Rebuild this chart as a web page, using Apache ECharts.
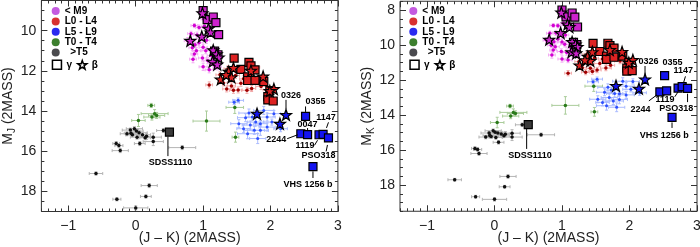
<!DOCTYPE html>
<html><head><meta charset="utf-8">
<script src="https://cdn.jsdelivr.net/npm/echarts@6/dist/echarts.min.js"></script>
<style>html,body{margin:0;padding:0;background:#fff}#c{width:700px;height:247px}</style>
</head><body><div id="c"></div>
<script>
// ---------------- data ----------------
const classNames = ['< M9', 'L0 - L4', 'L5 - L9', 'T0 - T4', '>T5'];
// field objects: [J-K, M_J, M_K, err(J-K), err(M)]
const fieldM9 = [
  [1.01, 9.42, 8.41, 0.04, 0.10], [0.87, 9.75, 8.88, 0.05, 0.10], [0.94, 9.84, 8.90, 0.05, 0.12],
  [1.02, 9.78, 8.76, 0.04, 0.10], [0.82, 10.15, 9.33, 0.05, 0.12], [0.91, 10.22, 9.31, 0.05, 0.15],
  [0.99, 10.35, 9.36, 0.05, 0.12], [1.05, 10.48, 9.43, 0.05, 0.15], [0.94, 10.60, 9.66, 0.06, 0.15],
  [0.88, 10.70, 9.82, 0.05, 0.12], [1.00, 10.83, 9.83, 0.06, 0.15], [0.84, 10.85, 10.01, 0.05, 0.15],
  [0.90, 11.00, 10.10, 0.06, 0.15], [1.04, 11.00, 9.96, 0.06, 0.15], [0.87, 11.16, 10.29, 0.05, 0.15],
  [1.12, 11.24, 10.12, 0.06, 0.15], [0.85, 11.42, 10.57, 0.05, 0.18], [0.99, 11.36, 10.37, 0.06, 0.15],
  [1.07, 11.50, 10.43, 0.06, 0.15], [1.16, 11.70, 10.54, 0.06, 0.15], [1.00, 11.80, 10.80, 0.06, 0.18],
  [1.09, 11.95, 10.86, 0.06, 0.15], [1.21, 11.80, 10.59, 0.06, 0.15], [0.77, 10.50, 9.73, 0.05, 0.15]
];
const fieldL0L4 = [
  [1.09, 12.70, 11.61, 0.05, 0.15], [1.35, 12.90, 11.55, 0.06, 0.15], [1.45, 12.97, 11.52, 0.06, 0.15],
  [1.52, 12.95, 11.43, 0.06, 0.15], [1.65, 12.97, 11.32, 0.08, 0.15], [1.95, 12.95, 11.00, 0.06, 0.15],
  [1.37, 11.90, 10.53, 0.06, 0.15], [1.48, 12.23, 10.75, 0.06, 0.15], [1.76, 11.82, 10.06, 0.08, 0.15],
  [1.30, 12.60, 11.30, 0.06, 0.15], [1.56, 12.62, 11.06, 0.08, 0.15], [1.82, 12.62, 10.80, 0.08, 0.15],
  [1.60, 12.40, 10.80, 0.06, 0.15], [1.72, 12.88, 11.16, 0.06, 0.15], [1.86, 12.78, 10.92, 0.08, 0.15],
  [1.25, 12.20, 10.95, 0.06, 0.15], [1.42, 12.75, 11.33, 0.06, 0.15], [1.55, 11.95, 10.40, 0.06, 0.15]
];
const fieldL5L9 = [
  [1.46, 13.56, 12.10, 0.08, 0.12], [1.52, 13.47, 11.95, 0.08, 0.12], [1.68, 14.10, 12.42, 0.15, 0.20],
  [1.73, 14.30, 12.57, 0.10, 0.15], [1.63, 14.33, 12.70, 0.12, 0.20], [1.78, 14.55, 12.77, 0.12, 0.20],
  [1.85, 14.63, 12.78, 0.10, 0.15], [1.95, 14.30, 12.35, 0.12, 0.20], [2.05, 14.13, 12.08, 0.10, 0.15],
  [1.95, 14.80, 12.85, 0.12, 0.20], [1.85, 14.96, 13.11, 0.12, 0.25], [1.76, 14.96, 13.20, 0.15, 0.20],
  [1.66, 15.13, 13.47, 0.15, 0.25], [1.81, 15.37, 13.56, 0.12, 0.25], [2.15, 14.88, 12.73, 0.10, 0.15],
  [1.53, 14.63, 13.10, 0.12, 0.20], [1.60, 14.88, 13.28, 0.10, 0.20], [1.90, 13.97, 12.07, 0.15, 0.20],
  [2.02, 14.55, 12.53, 0.12, 0.15], [1.70, 14.70, 13.00, 0.12, 0.20]
];
const fieldT0T4 = [
  [0.23, 13.72, 13.49, 0.05, 0.10], [0.28, 14.13, 13.85, 0.20, 0.20], [0.31, 14.22, 13.91, 0.12, 0.15],
  [0.24, 14.30, 14.06, 0.12, 0.15], [0.04, 14.47, 14.43, 0.10, 0.30], [1.05, 14.50, 13.45, 0.20, 0.50],
  [1.47, 13.82, 12.35, 0.13, 0.30], [1.48, 15.30, 13.82, 0.05, 0.25]
];
const fieldT5 = [
  [-0.02, 14.88, 14.90, 0.12, 0.10], [0.01, 15.00, 14.99, 0.10, 0.10], [-0.07, 15.10, 15.17, 0.10, 0.10],
  [0.05, 15.08, 15.03, 0.12, 0.12], [-0.05, 15.18, 15.23, 0.10, 0.10], [0.02, 15.30, 15.28, 0.10, 0.10],
  [0.10, 15.18, 15.08, 0.12, 0.12], [0.16, 15.26, 15.10, 0.10, 0.15], [0.14, 15.33, 15.19, 0.08, 0.10],
  [0.26, 15.30, 15.04, 0.12, 0.20], [0.26, 15.52, 15.26, 0.15, 0.20], [0.06, 15.62, 15.56, 0.08, 0.10],
  [0.41, 14.97, 14.56, 0.10, 0.10], [0.69, 15.82, 15.13, 0.20, 0.10], [-0.29, 15.62, 15.91, 0.05, 0.10],
  [-0.25, 15.72, 15.97, 0.06, 0.10], [-0.23, 15.97, 16.20, 0.12, 0.10], [-0.59, 17.11, 17.70, 0.10, 0.08],
  [0.20, 17.71, 17.51, 0.12, 0.10], [0.15, 18.25, 18.10, 0.08, 0.08], [-0.28, 18.39, 18.67, 0.06, 0.08],
  [0.00, 18.82, 18.82, 0.18, 0.10], [-0.13, 15.13, 15.26, 0.10, 0.10], [-0.08, 14.95, 15.03, 0.12, 0.10]
];
// young, gravity class gamma (squares): [J-K, M_J, M_K]
const gammaM9 = [[1.00, 9.00, 8.00], [1.06, 9.45, 8.39], [1.15, 9.32, 8.17], [1.19, 9.60, 8.41],
  [1.23, 10.20, 8.97], [1.17, 11.02, 9.85], [1.22, 11.20, 9.98]];
const gammaL0L4 = [[1.46, 11.37, 9.91], [1.56, 11.93, 10.37], [1.68, 11.58, 9.90], [1.71, 11.75, 10.04],
  [1.77, 11.95, 10.18], [1.66, 12.30, 10.64], [1.66, 12.48, 10.82], [1.77, 12.47, 10.70],
  [1.90, 12.53, 10.63], [1.99, 12.98, 10.99], [1.96, 13.28, 11.32], [1.96, 13.45, 11.49], [2.04, 13.50, 11.46]];
const gammaL5L9 = [[2.52, 14.27, 11.75], [2.45, 15.13, 12.68], [2.55, 15.17, 12.62], [2.72, 15.18, 12.46],
  [2.78, 15.16, 12.38], [2.86, 15.34, 12.48], [2.63, 16.77, 14.14]];
const gammaL5L9Names = ['0355', '2244', '0047', '1119', '1147', 'PSO318', 'VHS 1256 b'];
const gammaT5 = [[0.50, 15.05, 14.55]];
const gammaT5Names = ['SDSS1110'];
// gravity class beta (stars): [J-K, M_J, M_K]
const betaM9 = [[0.99, 9.13, 8.14], [1.08, 9.90, 8.82], [1.11, 10.08, 8.97], [0.98, 10.29, 9.31],
  [0.81, 10.50, 9.69], [1.15, 10.97, 9.82], [1.20, 11.17, 9.97], [1.23, 11.33, 10.10],
  [1.14, 11.54, 10.40], [1.21, 11.68, 10.47]];
const betaL0L4 = [[1.26, 12.42, 11.16], [1.38, 12.04, 10.66], [1.42, 12.32, 10.90], [1.34, 12.20, 10.86],
  [1.45, 11.85, 10.40], [1.71, 11.99, 10.28], [1.89, 12.28, 10.39], [2.05, 12.90, 10.85], [1.99, 13.00, 11.01]];
const betaL5L9 = [[1.80, 14.13, 12.33], [2.23, 14.19, 11.96], [2.14, 14.63, 12.49]];
const betaL5L9Names = ['', '0326', ''];
// axes
const xRange = [-1.4, 3.0];
const yRangeJ = [8.5, 19.0];
const yRangeK = [7.5, 19.5];
const xMajorStep = 1, xMinorStep = 0.1, yMajorStep = 2, yMinorStep = 0.5;
const xTitle = '(J \u2013 K) (2MASS)';
const yTitles = [['M', 'J'], ['M', 'K']];

// ---------------- styling ----------------
const FONT = "'Liberation Sans', Arial, Helvetica, sans-serif";
const STAR = 'path://M50,0L61.76,33.82L97.55,34.55L69.02,56.18L79.39,90.45L50,70L20.61,90.45L30.98,56.18L2.45,34.55L38.24,33.82Z';
const COL = {
  M9: { dot: '#D200D2', err: '#F3AAF3', fill: '#CC22CC', legend: '#C45AE0' },
  L0: { dot: '#A00000', err: '#F2AAAA', fill: '#DD2222', legend: '#D83030' },
  L5: { dot: '#2E50FF', err: '#AABBFF', fill: '#1414F0', legend: '#2A2AF0' },
  T0: { dot: '#2A7A1A', err: '#AACC9A', legend: '#3C7F2E' },
  T5: { dot: '#111111', err: '#B4B4B4', fill: '#3A3A3A', legend: '#4A4A4E' }
};
// label placement (pixel offsets relative to the marked object): t = text centre, l = leader line
const labelOffsets = [
  { // M_J panel
    '0326': { t: [5, -19], l: [0, -15, 0, -6] },
    '0355': { t: [10, -15], l: [0, -10, 0, -4.5] },
    '1147': { t: [3, -17], l: [5.4, -12, 3.4, -6.4] },
    '0047': { t: [0, -10.5], l: [0, -6.5, 0, -3.5] },
    '2244': { t: [-24.5, 5.5], l: [-13.7, 5, -3, 1] },
    '1119': { t: [-14, 11], l: [-4.5, 10.5, -1.5, 5.5] },
    'PSO318': { t: [-10, 18], l: [-2.3, 13.4, -1, 7] },
    'VHS 1256 b': { t: [-5, 18], l: [0, 4.7, 0, 11.3] },
    'SDSS1110': { t: [1, 30.5], l: [-1.5, 4.5, -1.5, 24] }
  },
  { // M_K panel
    '0326': { t: [3.5, -17.5], l: [0, -13.3, 0, -5] },
    '0355': { t: [8, -13.5] },
    '1147': { t: [1, -16.3], l: [3.3, -10.3, 1.6, -4.6] },
    '2244': { t: [-19.3, 18], l: [-11, 9, -3, 3] },
    '1119': { t: [-13, 11], l: [-3.3, 8.7, 0, 3.7] },
    'PSO318': { t: [-11.3, 20.3], l: [0, 5.3, 0, 13.7] },
    'VHS 1256 b': { t: [-7.7, 18.3], l: [0, 5, 0, 10.5] },
    'SDSS1110': { t: [1.7, 31], l: [-1.6, 4.3, -1.6, 24.3] }
  }
];

const gridBase = { show: true, borderColor: '#333', borderWidth: 1, backgroundColor: 'transparent',
  containLabel: false, outerBoundsMode: 'none' };
const grids = [
  Object.assign({ left: 41.4, top: 0.5, width: 296.5, height: 211 }, gridBase),
  Object.assign({ left: 400, top: 1.25, width: 297, height: 210 }, gridBase)
];
const yRanges = [yRangeJ, yRangeK];

const fmt = v => (v < 0 ? '\u2212' + Math.abs(v) : String(v));
const noLine = { show: false, onZero: false };

const xAxes = [], yAxes = [];
[0, 1].forEach(g => {
  ['bottom', 'top'].forEach(pos => {
    xAxes.push({
      type: 'value', gridIndex: g, position: pos, min: xRange[0], max: xRange[1],
      minInterval: xMajorStep, maxInterval: xMajorStep, splitNumber: 4,
      axisLine: noLine, splitLine: { show: false },
      axisTick: { show: true, inside: true, length: 6, lineStyle: { color: '#333', width: 1 } },
      axisLabel: pos === 'bottom' ? { show: true, margin: 8, fontSize: 14, color: '#222', fontFamily: FONT,
        showMinLabel: false, showMaxLabel: true, formatter: fmt } : { show: false },
      name: pos === 'bottom' ? xTitle : '', nameLocation: 'middle', nameGap: 20, nameMoveOverlap: false,
      nameTextStyle: { fontSize: 14, color: '#222', fontFamily: FONT }
    });
    xAxes.push({
      type: 'value', gridIndex: g, position: pos, min: xRange[0], max: xRange[1], interval: xMinorStep,
      axisLine: noLine, splitLine: { show: false }, axisLabel: { show: false },
      axisTick: { show: true, inside: true, length: 3, lineStyle: { color: '#333', width: 1 } }
    });
  });
  ['left', 'right'].forEach(pos => {
    const yr = yRanges[g];
    yAxes.push({
      type: 'value', gridIndex: g, position: pos, inverse: true, min: yr[0], max: yr[1],
      minInterval: yMajorStep, maxInterval: yMajorStep, splitNumber: 5,
      axisLine: noLine, splitLine: { show: false },
      axisTick: { show: true, inside: true, length: 6, lineStyle: { color: '#333', width: 1 } },
      axisLabel: pos === 'left' ? { show: true, margin: 5, fontSize: 14, color: '#222', fontFamily: FONT,
        showMinLabel: false, showMaxLabel: false, formatter: fmt } : { show: false },
      name: pos === 'left' ? '{m|' + yTitles[g][0] + '}{s|' + yTitles[g][1] + '}{m| (2MASS)}' : '',
      nameLocation: 'middle', nameGap: 24, nameRotate: 90, nameMoveOverlap: false,
      nameTextStyle: { fontFamily: FONT, color: '#222',
        rich: { m: { fontSize: 14, fontFamily: FONT, color: '#222' },
                s: { fontSize: 10, fontFamily: FONT, color: '#222', padding: [8, 0, 0, 0] } } }
    });
    yAxes.push({
      type: 'value', gridIndex: g, position: pos, inverse: true, min: yr[0], max: yr[1], interval: yMinorStep,
      axisLine: noLine, splitLine: { show: false }, axisLabel: { show: false },
      axisTick: { show: true, inside: true, length: 3, lineStyle: { color: '#333', width: 1 } }
    });
  });
});

function errSeries(g, rows, col, color) {
  return {
    type: 'custom', xAxisIndex: 4 * g, yAxisIndex: 4 * g, z: 1, silent: true,
    data: rows.map(r => [r[0], r[col], r[3], r[4]]),
    encode: { x: 0, y: 1 },
    renderItem(params, api) {
      const x = api.value(0), y = api.value(1), ex = api.value(2), ey = api.value(3);
      const c = api.coord([x, y]), l = api.coord([x - ex, y]), r = api.coord([x + ex, y]);
      const t = api.coord([x, y - ey]), b = api.coord([x, y + ey]);
      const st = { stroke: color, lineWidth: 1 };
      const cp = 1.5;
      const ln = (x1, y1, x2, y2) => ({ type: 'line', shape: { x1, y1, x2, y2 }, style: st });
      return { type: 'group', children: [
        ln(l[0], c[1], r[0], c[1]), ln(c[0], t[1], c[0], b[1]),
        ln(l[0], c[1] - cp, l[0], c[1] + cp), ln(r[0], c[1] - cp, r[0], c[1] + cp),
        ln(c[0] - cp, t[1], c[0] + cp, t[1]), ln(c[0] - cp, b[1], c[0] + cp, b[1])
      ] };
    }
  };
}
function dotSeries(g, name, rows, col, color, size) {
  return { type: 'scatter', name, xAxisIndex: 4 * g, yAxisIndex: 4 * g, z: 2, silent: true,
    symbol: 'circle', symbolSize: size, itemStyle: { color, opacity: 1 },
    data: rows.map(r => [r[0], r[col]]) };
}
function squareSeries(g, rows, col, fill) {
  return { type: 'scatter', name: '\u03b3', xAxisIndex: 4 * g, yAxisIndex: 4 * g, z: 3, silent: true,
    symbol: 'rect', symbolSize: 8, itemStyle: { color: fill, borderColor: '#000', borderWidth: 1.2, opacity: 1 },
    data: rows.map(r => [r[0], r[col]]) };
}
function starSeries(g, rows, col, fill) {
  return { type: 'scatter', name: '\u03b2', xAxisIndex: 4 * g, yAxisIndex: 4 * g, z: 4, silent: true,
    symbol: STAR, symbolSize: 11, itemStyle: { color: fill, borderColor: '#000', borderWidth: 1.2, opacity: 1 },
    data: rows.map(r => [r[0], r[col]]) };
}
function annoSeries(g, col) {
  const offs = labelOffsets[g];
  const items = [];
  gammaL5L9.forEach((r, i) => items.push({ name: gammaL5L9Names[i], row: r }));
  betaL5L9.forEach((r, i) => { if (betaL5L9Names[i]) items.push({ name: betaL5L9Names[i], row: r }); });
  gammaT5.forEach((r, i) => items.push({ name: gammaT5Names[i], row: r }));
  const used = items.filter(it => offs[it.name]);
  return {
    type: 'custom', xAxisIndex: 4 * g, yAxisIndex: 4 * g, z: 6, silent: true,
    data: used.map(it => [it.row[0], it.row[col]]), encode: { x: 0, y: 1 },
    renderItem(params, api) {
      const it = used[params.dataIndex], o = offs[it.name];
      const c = api.coord([api.value(0), api.value(1)]);
      const ch = [{ type: 'text', x: c[0] + o.t[0], y: c[1] + o.t[1],
        style: { text: it.name, fill: '#000', fontSize: 9, fontWeight: 'bold', fontFamily: FONT,
                 align: 'center', verticalAlign: 'middle' } }];
      if (o.l) ch.push({ type: 'line', shape: { x1: c[0] + o.l[0], y1: c[1] + o.l[1], x2: c[0] + o.l[2], y2: c[1] + o.l[3] },
        style: { stroke: '#000', lineWidth: 1 } });
      return { type: 'group', children: ch };
    }
  };
}

const series = [];
[0, 1].forEach(g => {
  const col = g === 0 ? 1 : 2;
  series.push(errSeries(g, fieldT5, col, COL.T5.err));
  series.push(errSeries(g, fieldT0T4, col, COL.T0.err));
  series.push(errSeries(g, fieldM9, col, COL.M9.err));
  series.push(errSeries(g, fieldL0L4, col, COL.L0.err));
  series.push(errSeries(g, fieldL5L9, col, COL.L5.err));
  series.push(dotSeries(g, classNames[0], fieldM9, col, COL.M9.dot, 3.5));
  series.push(dotSeries(g, classNames[1], fieldL0L4, col, COL.L0.dot, 3.5));
  series.push(dotSeries(g, classNames[2], fieldL5L9, col, COL.L5.dot, 3));
  series.push(dotSeries(g, classNames[3], fieldT0T4, col, COL.T0.dot, 3.5));
  series.push(dotSeries(g, classNames[4], fieldT5, col, COL.T5.dot, 3.5));
  series.push(squareSeries(g, gammaM9, col, COL.M9.fill));
  series.push(squareSeries(g, gammaL0L4, col, COL.L0.fill));
  series.push(squareSeries(g, gammaL5L9, col, COL.L5.fill));
  series.push(squareSeries(g, gammaT5, col, COL.T5.fill));
  series.push(starSeries(g, betaM9, col, COL.M9.fill));
  series.push(starSeries(g, betaL0L4, col, COL.L0.fill));
  series.push(starSeries(g, betaL5L9, col, COL.L5.fill));
  series.push(annoSeries(g, col));
});

const legendColors = [COL.M9.legend, COL.L0.legend, COL.L5.legend, COL.T0.legend, COL.T5.legend];
const legText = { fontSize: 10, fontWeight: 'bold', color: '#000', fontFamily: FONT, lineHeight: 10 };
const legends = [];
[51.7, 409.3].forEach(lx => {
  legends.push({
    orient: 'vertical', left: lx, top: 6, itemWidth: 8, itemHeight: 8, itemGap: 0.4, padding: 0,
    selectedMode: false, textStyle: legText,
    formatter: n => (n === '>T5' ? '  >T5' : n),
    data: classNames.map((n, i) => ({ name: n, icon: 'circle', itemStyle: { color: legendColors[i], borderWidth: 0 } }))
  });
  legends.push({
    orient: 'horizontal', left: lx, top: 59.5, itemWidth: 9, itemHeight: 9, itemGap: 5, padding: 0,
    selectedMode: false, textStyle: legText,
    data: [
      { name: '\u03b3', icon: 'rect', itemStyle: { color: '#fff', borderColor: '#000', borderWidth: 1.5 } },
      { name: '\u03b2', icon: STAR, itemStyle: { color: '#fff', borderColor: '#000', borderWidth: 1.5 } }
    ]
  });
});

const chart = echarts.init(document.getElementById('c'), null, { renderer: 'canvas' });
chart.setOption({
  animation: false,
  backgroundColor: '#fff',
  grid: grids,
  xAxis: xAxes,
  yAxis: yAxes,
  legend: legends,
  series
});
</script></body></html>
